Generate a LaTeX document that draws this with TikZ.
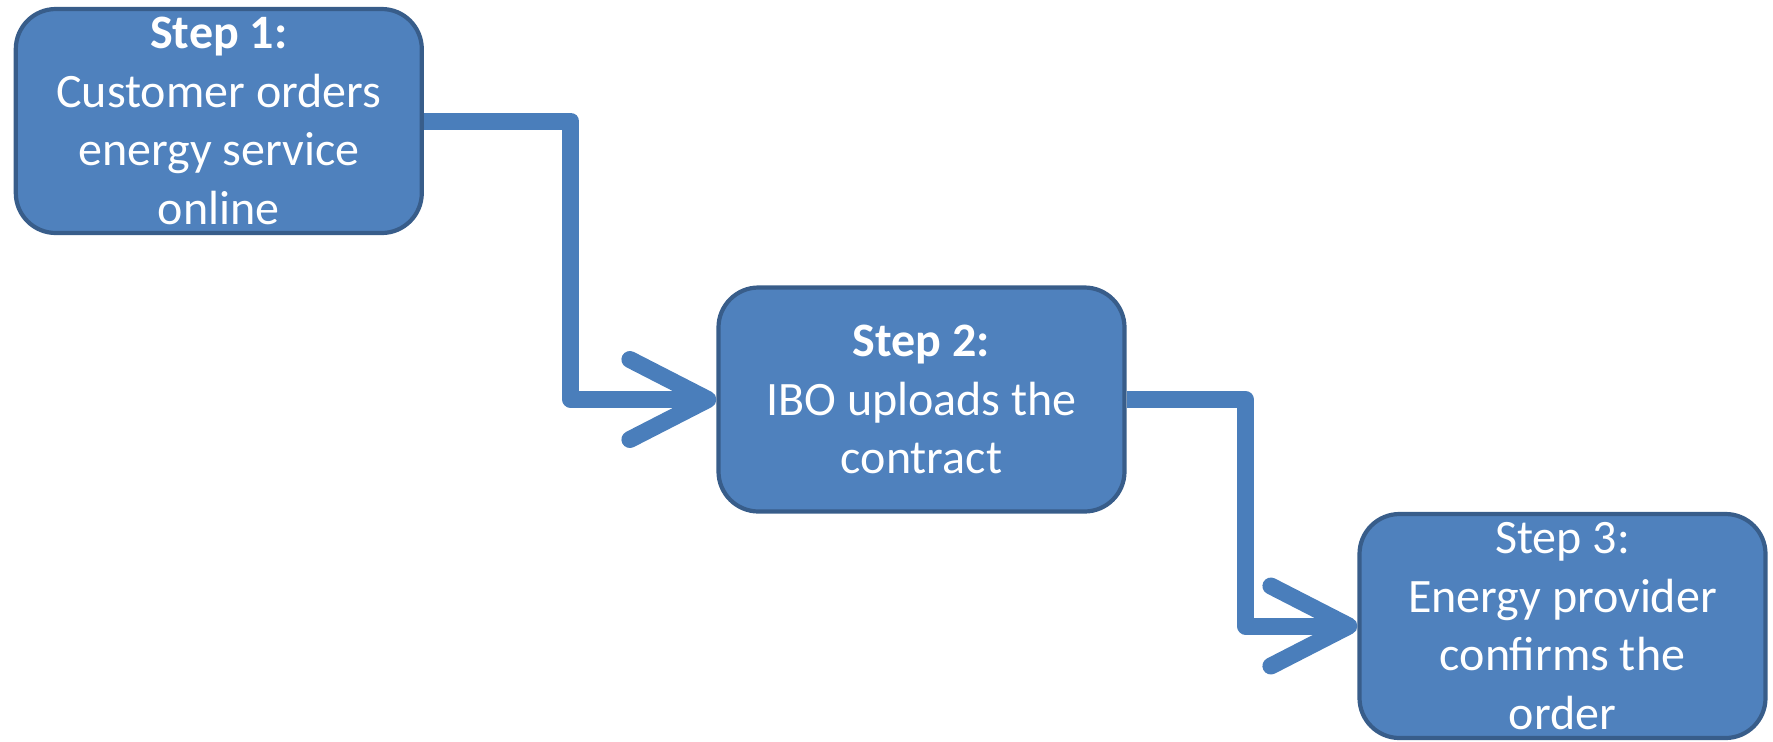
\documentclass[tikz,border=0pt]{standalone}
\usepackage{fontspec}
\setmainfont{Carlito}
\usetikzlibrary{arrows.meta}
\definecolor{boxfill}{HTML}{4F81BD}
\definecolor{boxborder}{HTML}{385D8A}
\definecolor{connblue}{HTML}{4A7EBB}
\tikzset{
  stepbox/.style={draw=boxborder, fill=boxfill, line width=2.1pt, rounded corners=20pt,
    minimum width=203pt, minimum height=112pt, align=center, text=white,
    font=\fontsize{24pt}{29.25pt}\selectfont, inner sep=0pt},
  conn/.style={draw=connblue, line width=8.5pt, line join=round,
    -{Straight Barb[length=39pt, width=40pt, round]}}
}
\begin{document}
\begin{tikzpicture}
\useasboundingbox (0,0) rectangle (886.5pt,-370.5pt);
\node[stepbox] (b1) at (109.4pt,-60.5pt) {\textbf{Step 1:}\\Customer orders\\energy service\\online};
\node[stepbox] (b2) at (460.75pt,-199.75pt) {\textbf{Step 2:}\\IBO uploads the\\contract};
\node[stepbox] (b3) at (781.25pt,-313pt) {Step 3:\\Energy provider\\confirms the\\order};
\draw[conn] (b1.east) -- ++(73.5pt,0) |- (b2.west);
\draw[conn] (b2.east) -- ++(59.5pt,0) |- (b3.west);
\end{tikzpicture}
\end{document}
